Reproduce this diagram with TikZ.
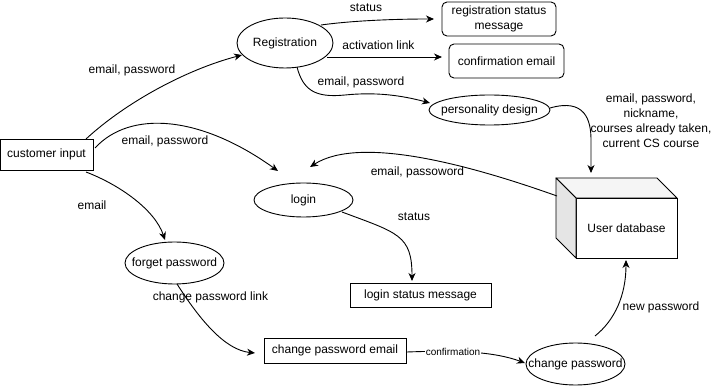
\documentclass[tikz,border=0pt]{standalone}
\usepackage{fontspec}
\setmainfont{Liberation Sans}
\usetikzlibrary{shapes.geometric,arrows.meta,calc}
\begin{document}
\begin{tikzpicture}[x=1pt,y=1pt,
  every node/.style={font=\fontsize{12}{15}\selectfont, inner sep=0pt, outer sep=0pt},
  box/.style={draw, line width=0.9pt, fill=white, align=center},
  roundbox/.style={box, rounded corners=5pt},
  % the ellipse keeps its given size; its text is set as a centred label
  process/.style={draw, ellipse, line width=0.9pt, fill=white,
    label={[font=\fontsize{12}{15}\selectfont]center:#1}},
  flow/.style={line width=0.9pt, -{Stealth[length=8pt,width=7pt,inset=2.5pt]}},
  lbl/.style={align=center},
  smalllbl/.style={font=\fontsize{10}{12}\selectfont, fill=white, inner sep=0.5pt}
]
\useasboundingbox (0,0) rectangle (717,388);

% ---- processes and data boxes ----
\node[box, minimum width=93pt, minimum height=31pt] (ci) at (46.5,233.5) {customer input};
\node[process=Registration, minimum width=96pt, minimum height=50pt] (reg) at (285,345) {};
\node[roundbox, minimum width=114pt, minimum height=34pt] (rsm) at (499,369) {registration status\\message};
\node[roundbox, minimum width=115pt, minimum height=34pt] (ce) at (506.5,327) {confirmation email};
\node[process=personality design, minimum width=121pt, minimum height=30pt] (pd) at (489.5,278) {};
\node[process=login, minimum width=99pt, minimum height=34pt] (login) at (303.5,188) {};
\node[process=forget password, minimum width=99pt, minimum height=42pt] (fp) at (174.5,125) {};
\node[box, minimum width=141pt, minimum height=24pt] (lsm) at (420.5,93) {login status message};
\node[box, minimum width=142pt, minimum height=25pt] (cpe) at (335,37.5) {change password email};
\node[process=change password, minimum width=99pt, minimum height=42pt] (cp) at (575.5,24) {};

% ---- user database drawn as a cube ----
\node[box, minimum width=101pt, minimum height=60pt] (db) at (626.5,160) {User database};
\filldraw[line width=0.9pt, fill=black!4, line join=round]
  (db.north west) -- ++(-20,20) -- ($(db.north east)+(-20,20)$) -- (db.north east) -- cycle;
\filldraw[line width=0.9pt, fill=black!10, line join=round]
  (db.north west) -- ++(-20,20) -- ($(db.south west)+(-20,20)$) -- (db.south west) -- cycle;

% ---- data flows ----
\draw[flow] ($(ci.north east)+(-7,0)$) .. controls (125,285) and (185,318) .. ($(reg.west)+(5,-12)$);
\node[lbl] (l1) at (132,318) {email, password};

\draw[flow] ($(ci.east)+(2,6.5)$) .. controls (130,278) and (200,273) .. ($(login.north)+(-25.5,12)$);
\node[lbl] (l2) at (165,247) {email, password};

\draw[flow] ($(ci.south east)+(-7,-2)$) .. controls (120,203) and (155,178) .. ($(fp.north)+(-9.5,2)$);
\node[lbl] (l3) at (92,183) {email};

\draw[flow] ($(reg.center)+(36,18)$) .. controls (350,367) and (390,369) .. ($(rsm.west)+(-8,0)$);
\node[lbl] (l4) at (366,380) {status};

\draw[flow] ($(reg.center)+(42,-14)$) -- ($(ce.west)+(-7,4)$);
\node[lbl] (l5) at (378.5,343) {activation link};

\draw[flow] ($(reg.center)+(12,-24)$) .. controls (303,298) and (315,290) .. (345,293)
  .. controls (375,296) and (400,293) .. ($(pd.west)+(1,7)$);
\node[lbl] (l6) at (361,306) {email, password};

\draw[flow] ($(pd.east)+(0,2)$) .. controls (585,290) and (591,268) .. (591,248) -- ($(db.north)+(-35.5,25)$);
\node[lbl] (l7) at (651,267.5) {email, password,\\nickname,\\courses already taken,\\current CS course};

\draw[flow] ($(db.west)+(-19,32)$) .. controls (470,223) and (360,253) .. ($(login.north)+(6.5,16)$);
\node[lbl] (l8) at (417.5,216) {email, passoword};

\draw[flow] ($(login.center)+(38.5,-12)$) .. controls (398,155) and (412,153) .. ($(lsm.north)+(-8.5,2)$);
\node[lbl] (l9) at (414,171) {status};

\draw[flow] ($(fp.south)+(2.5,0)$) .. controls (200,68) and (225,38) .. ($(cpe.west)+(-9,-2.5)$);
\node[lbl] (l10) at (210.5,91) {change password link};

\draw[flow] ($(cpe.east)+(1,-1.5)$) .. controls (460,38) and (495,36) .. ($(cp.west)+(-1,1)$);
\node[smalllbl] (l11) at (453,36) {confirmation};

\draw[flow] ($(cp.center)+(19.5,28)$) .. controls (615,68) and (626,93) .. ($(db.south)+(-0.5,-2)$);
\node[lbl] (l12) at (661,81) {new password};
\end{tikzpicture}
\end{document}
